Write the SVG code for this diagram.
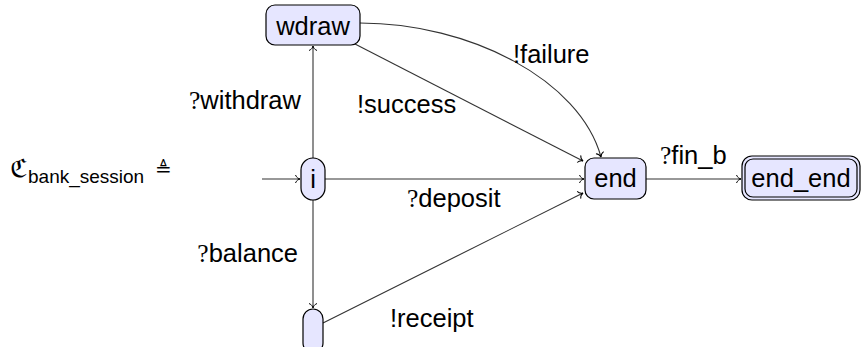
<svg xmlns="http://www.w3.org/2000/svg" width="861" height="347" viewBox="0 0 861 347">
<defs>
<style>
.node{fill:#e6e6ff;stroke:#000;stroke-width:1.2}
.t{font-family:"Liberation Sans",Arial,sans-serif;font-size:25.5px;fill:#000}
.q{font-family:"Liberation Serif","Times New Roman",serif}
.e{fill:none;stroke:#333;stroke-width:1.1}
</style>
<marker id="to" markerUnits="userSpaceOnUse" markerWidth="12" markerHeight="12" refX="0" refY="0" viewBox="-6 -6 12 12" orient="auto" overflow="visible">
<path d="M-4.5,-4 C-3.5,-1.2 -1.2,-0.3 0,0 C-1.2,0.3 -3.5,1.2 -4.5,4" fill="none" stroke="#000" stroke-width="1"/>
</marker>
</defs>
<rect width="861" height="347" fill="#fff"/>
<g id="title">
<text x="10" y="177" font-family="DejaVu Sans, sans-serif" font-size="25" fill="#000">ℭ</text>
<text x="28" y="183" font-family="'Liberation Sans',Arial,sans-serif" font-size="19" fill="#000">bank_session</text>
<text x="155" y="176" font-family="DejaVu Sans, sans-serif" font-size="20" fill="#000">≜</text>
</g>
<g id="connectors">
<line class="e" x1="262" y1="179" x2="300" y2="179" marker-end="url(#to)"/>
<line class="e" x1="313" y1="158" x2="313" y2="46" marker-end="url(#to)"/>
<line class="e" x1="313" y1="200" x2="313" y2="308" marker-end="url(#to)"/>
<line class="e" x1="325" y1="179" x2="584" y2="179" marker-end="url(#to)"/>
<line class="e" x1="355" y1="44" x2="583" y2="161" marker-end="url(#to)"/>
<path class="e" d="M360,23 C470,23 580,80 601,157" marker-end="url(#to)"/>
<line class="e" x1="323" y1="323" x2="583" y2="193" marker-end="url(#to)"/>
<line class="e" x1="646" y1="179" x2="741" y2="179" marker-end="url(#to)"/>
</g>
<g id="labels" class="t">
<text x="189" y="109"><tspan class="q">?</tspan>withdraw</text>
<text x="357" y="113">!success</text>
<text x="513" y="63">!failure</text>
<text x="407" y="207"><tspan class="q">?</tspan>deposit</text>
<text x="660" y="164"><tspan class="q">?</tspan>fin_b</text>
<text x="298" y="262" text-anchor="end"><tspan class="q">?</tspan>balance</text>
<text x="390" y="327">!receipt</text>
</g>
<g id="node-wdraw">
<rect class="node" x="266" y="5" width="94" height="40" rx="9"/>
<text class="t" x="313" y="35" text-anchor="middle">wdraw</text>
</g>
<g id="node-i">
<rect class="node" x="301" y="158" width="24" height="42" rx="12"/>
<text class="t" x="313" y="188" text-anchor="middle">i</text>
</g>
<g id="node-bottom">
<rect class="node" x="303" y="309" width="20" height="44" rx="10"/>
</g>
<g id="node-end">
<rect class="node" x="585" y="158" width="61" height="41" rx="9"/>
<text class="t" x="615.5" y="187" text-anchor="middle">end</text>
</g>
<g id="node-end_end">
<rect class="node" x="742" y="156" width="118" height="44" rx="10"/>
<rect fill="none" stroke="#000" stroke-width="1.2" x="745" y="159" width="112" height="38" rx="8"/>
<text class="t" x="801" y="187" text-anchor="middle">end_end</text>
</g>
</svg>
